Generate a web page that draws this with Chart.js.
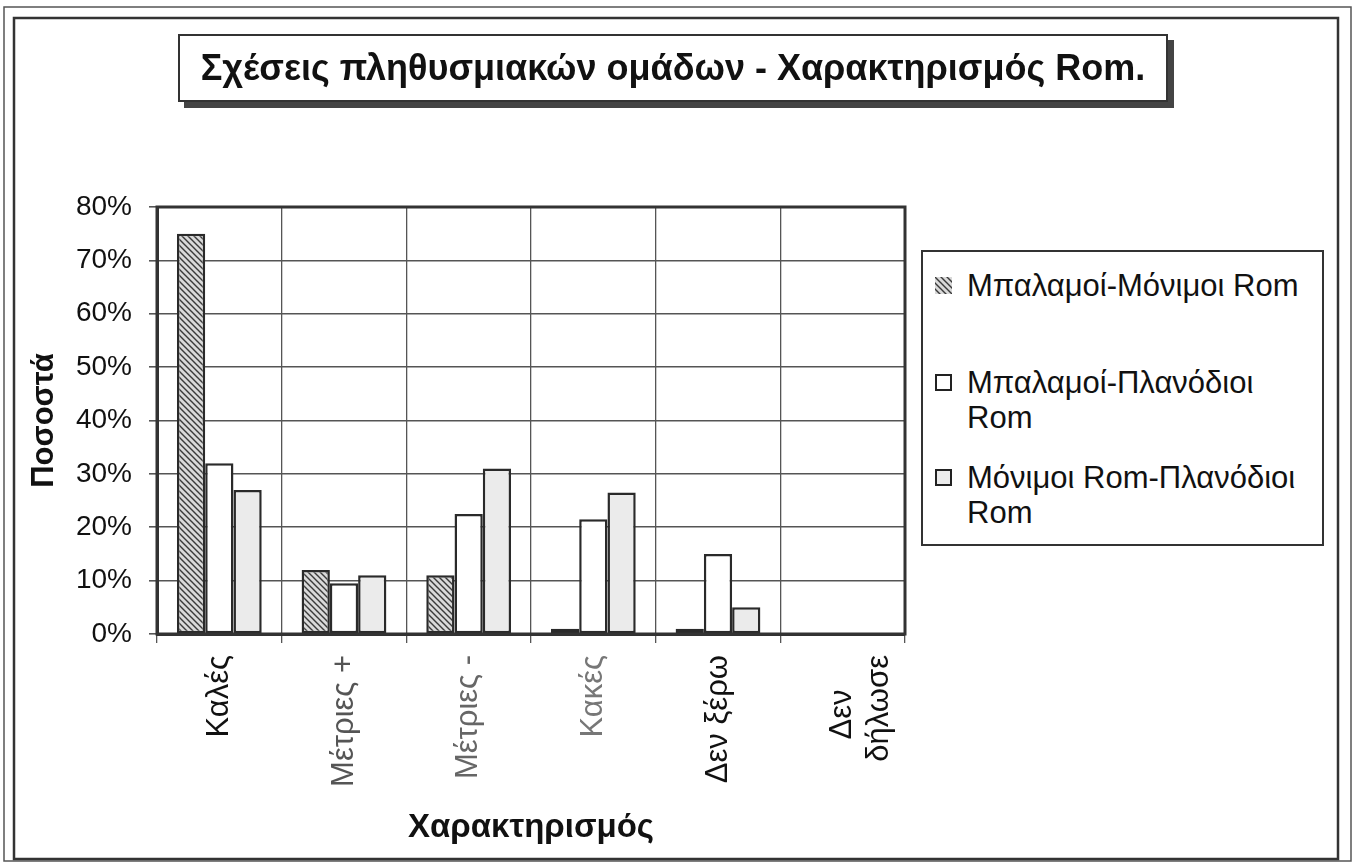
<!DOCTYPE html>
<html>
<head>
<meta charset="utf-8">
<script src="https://cdn.jsdelivr.net/npm/chart.js@4/dist/chart.umd.min.js"></script>
<style>
	body { margin: 0; background: #fff; font-family: "Liberation Sans", Arial, sans-serif; }
	#wrap { position: relative; width: 1357px; height: 863px; }
	#chartTitle {
		position: absolute; left: 178px; top: 34px; width: 986px; height: 64px;
		border: 2px solid #333; box-shadow: 6px 6px 0 #444; background: #fff;
		font-weight: bold; font-size: 36px; color: #111;
		display: flex; align-items: center; justify-content: center;
	}
	#legendBox {
		position: absolute; left: 921px; top: 250px; width: 399px; height: 292px;
		border: 2px solid #333; background: #fff; font-size: 31px; color: #111;
	}
	.item { position: absolute; left: 44px; line-height: 35px; }
	.sw { position: absolute; left: -32px; top: 9px; width: 17px; height: 17px; box-sizing: border-box; }
</style>
</head>
<body>
<div id="wrap">
	<canvas id="relChart" width="1357" height="863"></canvas>
	<div id="chartTitle">Σχέσεις πληθυσμιακών ομάδων - Χαρακτηρισμός Rom.</div>
	<div id="legendBox"></div>
</div>
<script>
// values in percent
const categories = ['Καλές', 'Μέτριες +', 'Μέτριες -', 'Κακές', 'Δεν ξέρω', ['Δεν    ', 'δήλωσε']];
const seriesNames = ['Μπαλαμοί-Μόνιμοι Rom', 'Μπαλαμοί-Πλανόδιοι Rom', 'Μόνιμοι Rom-Πλανόδιοι Rom'];
const balamoiMonimoi = [75, 12, 11, 1, 1, 0];
const balamoiPlanodioi = [32, 9.5, 22.5, 21.5, 15, 0];
const monimoiPlanodioi = [27, 11, 31, 26.5, 5, 0];
const yTicks = [0, 10, 20, 30, 40, 50, 60, 70, 80];
const tickColors = ['#111', '#555', '#666', '#777', '#111', '#111'];

const FONT = '"Liberation Sans", Arial, sans-serif';

// diagonal hatch for the first series
function hatch() {
	var c = document.createElement('canvas');
	c.width = 6; c.height = 6;
	var g = c.getContext('2d');
	g.fillStyle = '#d9d9d9';
	g.fillRect(0, 0, 6, 6);
	g.strokeStyle = '#3a3a3a';
	g.lineWidth = 1.4;
	g.beginPath();
	g.moveTo(-1, -1); g.lineTo(7, 7);
	g.moveTo(-4, 2); g.lineTo(1, 7);
	g.moveTo(2, -4); g.lineTo(7, 1);
	g.stroke();
	return g.createPattern(c, 'repeat');
}
var hatchFill = hatch();
var fills = [hatchFill, '#ffffff', '#ebebeb'];

// outer double frame + box around the plot area
const frames = {
	id: 'frames',
	beforeDraw(chart) {
		var c = chart.ctx;
		c.save();
		c.fillStyle = '#fff';
		c.fillRect(0, 0, chart.width, chart.height);
		c.strokeStyle = '#555';
		c.lineWidth = 1.5;
		c.strokeRect(4, 7, 1347, 854);
		c.strokeStyle = '#333';
		c.lineWidth = 2.5;
		c.strokeRect(14, 18, 1324, 841);
		c.restore();
	},
	afterDraw(chart) {
		var a = chart.chartArea, c = chart.ctx;
		c.save();
		c.strokeStyle = '#333';
		c.lineWidth = 3;
		c.strokeRect(a.left, a.top, a.right - a.left, a.bottom - a.top);
		c.restore();
	}
};

var ctx = document.getElementById('relChart').getContext('2d');
var relChart = new Chart(ctx, {
	type: 'bar',
	data: {
		labels: categories,
		datasets: [
			{ label: seriesNames[0], data: balamoiMonimoi, backgroundColor: fills[0] },
			{ label: seriesNames[1], data: balamoiPlanodioi, backgroundColor: fills[1] },
			{ label: seriesNames[2], data: monimoiPlanodioi, backgroundColor: fills[2] }
		].map(function (d) {
			d.borderColor = '#2a2a2a';
			d.borderWidth = 2.5;
			d.borderSkipped = false;
			d.categoryPercentage = 0.68;
			d.barPercentage = 1.0;
			return d;
		})
	},
	options: {
		responsive: false,
		animation: false,
		layout: { padding: { left: 20, right: 452, top: 207, bottom: 15 } },
		scales: {
			x: {
				afterFit: function (s) { s.height = 214; },
				grid: { color: '#555', lineWidth: 1.3, tickLength: 9, tickColor: '#555' },
				border: { color: '#333', width: 3 },
				ticks: {
					minRotation: 90, maxRotation: 90, padding: 12,
					font: { family: FONT, size: 31 },
					color: function (c) { return tickColors[c.index] || '#111'; }
				},
				title: {
					display: true, text: 'Χαρακτηρισμός', color: '#111',
					font: { family: FONT, size: 33, weight: 'bold' },
					padding: { top: 0, bottom: 0 }
				}
			},
			y: {
				min: 0, max: 80,
				afterFit: function (s) { s.width = 137; },
				afterBuildTicks: function (s) { s.ticks = yTicks.map(function (v) { return { value: v }; }); },
				grid: { color: '#555', lineWidth: 1.6, tickLength: 8, tickColor: '#555' },
				border: { color: '#333', width: 3 },
				ticks: {
					padding: 17, color: '#111',
					font: { family: FONT, size: 28 },
					callback: function (v) { return v + '%'; }
				},
				title: {
					display: true, text: 'Ποσοστά', color: '#111',
					font: { family: FONT, size: 31, weight: 'bold' },
					padding: { top: 6, bottom: 0 }
				}
			}
		},
		plugins: {
			legend: { display: false },
			tooltip: { enabled: false }
		}
	},
	plugins: [frames]
});

// legend as text, wrapped like the original
var legendRows = [
	{ lines: ['Μπαλαμοί-Μόνιμοι Rom'], top: 16 },
	{ lines: ['Μπαλαμοί-Πλανόδιοι', 'Rom'], top: 113 },
	{ lines: ['Μόνιμοι Rom-Πλανόδιοι', 'Rom'], top: 208 }
];
var box = document.getElementById('legendBox');
legendRows.forEach(function (r, i) {
	var it = document.createElement('div');
	it.className = 'item';
	it.style.top = r.top + 'px';
	it.innerHTML = r.lines.join('<br>');
	var sw = document.createElement('span');
	sw.className = 'sw';
	if (i === 0) {
		var pc = document.createElement('canvas');
		pc.width = 17; pc.height = 17;
		var pg = pc.getContext('2d');
		pg.fillStyle = hatchFill;
		pg.fillRect(0, 0, 17, 17);
		sw.style.backgroundImage = 'url(' + pc.toDataURL() + ')';
	} else {
		sw.style.border = '2px solid #222';
		sw.style.background = fills[i];
	}
	it.appendChild(sw);
	box.appendChild(it);
});
</script>
</body>
</html>
